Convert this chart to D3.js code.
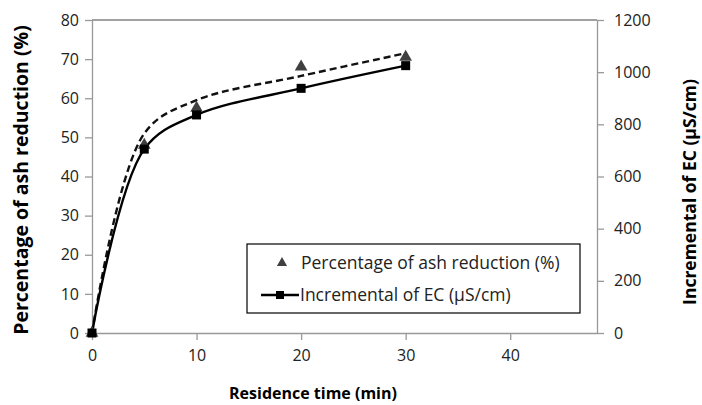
<!DOCTYPE html>
<html>
<head>
<meta charset="utf-8">
<script src="https://cdn.jsdelivr.net/npm/d3@7"></script>
<style>
  body { margin: 0; background: #fff; }
  svg text { font-family: "Open Sans", sans-serif; fill: #222; }
  .axTitle { font-weight: bold; fill: #000; }
</style>
</head>
<body>
<div id="chart"></div>
<script>
// residence time (min)
var timeVals = [0, 5, 10, 20, 30];
// percentage of ash reduction (%), markers only
var ashVals = [0, 48, 57.5, 68, 70.5];
// fitted curve drawn dashed (left axis)
var ashFit = [0, 51, 59.5, 65.7, 71.5];
// incremental EC (uS/cm), right axis
var ecVals = [0, 705, 836, 938, 1025];

var xTicks = [0, 10, 20, 30, 40];
var yLeftTicks = [0, 10, 20, 30, 40, 50, 60, 70, 80];
var yRightTicks = [0, 200, 400, 600, 800, 1000, 1200];

var W = 702, H = 405;
var margin = {top: 20, right: 105, bottom: 72, left: 92};
var width = W - margin.left - margin.right;
var height = H - margin.top - margin.bottom;

var svg = d3.select("#chart").append("svg")
    .attr("width", W).attr("height", H);
var g = svg.append("g")
    .attr("transform", "translate(" + margin.left + "," + margin.top + ")");

var x = d3.scaleLinear().domain([0, 48.3]).range([0, width]);
var yL = d3.scaleLinear().domain([0, 80]).range([height, 0]);
var yR = d3.scaleLinear().domain([0, 1200]).range([height, 0]);

// top border of plot area
g.append("line").attr("x1", 0).attr("x2", width).attr("y1", 0).attr("y2", 0)
  .attr("stroke", "#444").attr("stroke-width", 1.2);

var axX = g.append("g").attr("transform", "translate(0," + height + ")")
  .call(d3.axisBottom(x).tickValues(xTicks).tickSize(7).tickSizeOuter(0).tickPadding(10));
var axL = g.append("g")
  .call(d3.axisLeft(yL).tickValues(yLeftTicks).tickSize(7).tickSizeOuter(0).tickPadding(6));
var axR = g.append("g").attr("transform", "translate(" + width + ",0)")
  .call(d3.axisRight(yR).tickValues(yRightTicks).tickFormat(d3.format("d"))
    .tickSize(7).tickSizeOuter(0).tickPadding(10));

[axX, axL, axR].forEach(function(a){
  a.selectAll(".domain").attr("stroke", "#999").attr("stroke-width", 1.3);
  a.selectAll(".tick line").attr("stroke", "#999").attr("stroke-width", 1.3);
  a.selectAll(".tick text").style("font-size", "16px").attr("fill", "#222");
});

var line = d3.line().curve(d3.curveCatmullRom.alpha(0.5));

// dashed fitted curve
g.append("path")
  .attr("d", line(timeVals.map(function(t, i){ return [x(t), yL(ashFit[i])]; })))
  .attr("fill", "none").attr("stroke", "#111").attr("stroke-width", 2.4)
  .attr("stroke-dasharray", "7,4");

// EC solid line
g.append("path")
  .attr("d", line(timeVals.map(function(t, i){ return [x(t), yR(ecVals[i])]; })))
  .attr("fill", "none").attr("stroke", "#000").attr("stroke-width", 2.4);

var tri = d3.symbol().type(d3.symbolTriangle).size(70);
g.selectAll(".tri").data(timeVals).enter().append("path")
  .attr("class", "tri")
  .attr("d", tri)
  .attr("transform", function(t, i){ return "translate(" + x(t) + "," + yL(ashVals[i]) + ")"; })
  .attr("fill", "#404040");

g.selectAll(".sq").data(timeVals).enter().append("rect")
  .attr("class", "sq")
  .attr("x", function(t){ return x(t) - 4.5; })
  .attr("y", function(t, i){ return yR(ecVals[i]) - 4.5; })
  .attr("width", 9).attr("height", 9)
  .attr("fill", "#000");

// legend
var lg = svg.append("g").attr("transform", "translate(247,244)");
lg.append("rect").attr("width", 333).attr("height", 69)
  .attr("fill", "#fff").attr("stroke", "#000").attr("stroke-width", 1.2);
lg.append("path").attr("d", d3.symbol().type(d3.symbolTriangle).size(45))
  .attr("transform", "translate(35,19)").attr("fill", "#404040");
lg.append("text").attr("x", 54).attr("y", 19).attr("dy", "0.35em")
  .style("font-size", "17.5px").text("Percentage of ash reduction (%)");
lg.append("line").attr("x1", 14).attr("x2", 52).attr("y1", 51).attr("y2", 51)
  .attr("stroke", "#000").attr("stroke-width", 2.4);
lg.append("rect").attr("x", 29).attr("y", 47).attr("width", 8).attr("height", 8).attr("fill", "#000");
lg.append("text").attr("x", 53).attr("y", 51).attr("dy", "0.35em")
  .style("font-size", "17.5px").text("Incremental of EC (\u00b5S/cm)");

// axis titles
svg.append("text").attr("class", "axTitle")
  .attr("x", 313).attr("y", 393).attr("dy", "0.35em").attr("text-anchor", "middle")
  .style("font-size", "16px").text("Residence time (min)");
svg.append("text").attr("class", "axTitle")
  .attr("transform", "translate(21,180) rotate(-90)")
  .attr("dy", "0.35em").attr("text-anchor", "middle")
  .style("font-size", "19.5px").text("Percentage of ash reduction (%)");
svg.append("text").attr("class", "axTitle")
  .attr("transform", "translate(690,192) rotate(-90)")
  .attr("dy", "0.35em").attr("text-anchor", "middle")
  .style("font-size", "17.5px").text("Incremental of EC (\u00b5S/cm)");
</script>
</body>
</html>
